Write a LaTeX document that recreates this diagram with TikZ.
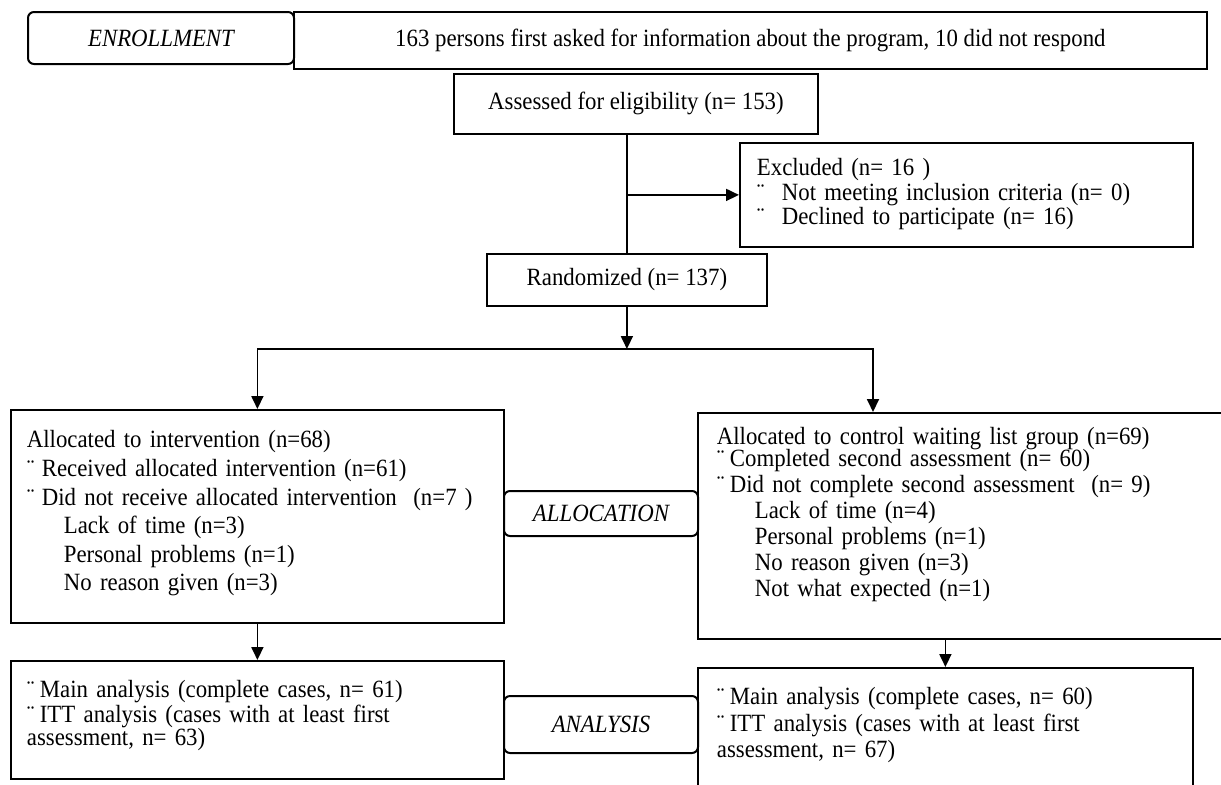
\documentclass[tikz,border=0pt]{standalone}
\usepackage{fontspec}
\setmainfont{Liberation Serif}[FakeStretch=0.92]
\usepackage{tikz}
\usetikzlibrary{arrows.meta}
\lineskiplimit=-10pt

\begin{document}
\begin{tikzpicture}[x=0.5pt, y=-0.5pt,
    every node/.style={font=\fontsize{12.4pt}{13pt}\selectfont},
    box/.style={draw, line width=0.9pt, anchor=north west, inner sep=0pt},
    phase/.style={box, rounded corners=3pt, line width=1pt, font=\fontsize{12.4pt}{13pt}\selectfont\itshape},
    listbox/.style={box, align=left},
    link/.style={line width=0.9pt},
    arr/.style={link, -{Triangle[length=6.5pt, width=6pt]}}]
    \fill[white] (0,0) rectangle (1221,784);
    \useasboundingbox (0,0) rectangle (1221,784);

    % enrollment
    \node[phase, minimum width=133pt, minimum height=26pt] (enrol) at (27,11) {ENROLLMENT};
    \node[box, minimum width=456.5pt, minimum height=28.5pt] (asked) at (293,11)
      {163 persons first asked for information about the program, 10 did not respond};
    \node[box, minimum width=182pt, minimum height=30pt] (assessed) at (453,73) {Assessed for eligibility (n= 153)};
    \node[listbox, text width=209.5pt, inner xsep=8.5pt, text height=16.5pt, text depth=35.5pt,
          font=\fontsize{12.4pt}{10.3pt}\selectfont] (excluded) at (739,142) {%
      Excluded (n= 16 )\\
      \makebox[12.5pt][l]{¨}Not meeting inclusion criteria (n= 0)\\
      \makebox[12.5pt][l]{¨}Declined to participate (n= 16)};
    \node[box, minimum width=140pt, minimum height=26pt] (random) at (486,253) {Randomized (n= 137)};

    % allocation
    \node[listbox, text width=230.5pt, inner xsep=8pt, text height=19pt, text depth=87.5pt,
          font=\fontsize{12.4pt}{14.3pt}\selectfont] (armA) at (10,409) {%
      Allocated to intervention (n=68)\\
      \makebox[7.5pt][l]{¨}Received allocated intervention (n=61)\\
      \makebox[7.5pt][l]{¨}Did not receive allocated intervention\ \ (n=7 )\\
      \hspace*{18.5pt}Lack of time (n=3)\\
      \hspace*{18.5pt}Personal problems (n=1)\\
      \hspace*{18.5pt}No reason given (n=3)};
    \node[phase, minimum width=97pt, minimum height=22.5pt] (allocation) at (503,490) {ALLOCATION};
    \node[listbox, text width=252.5pt, inner xsep=9.5pt, text height=16pt, text depth=97pt,
          font=\fontsize{12.4pt}{13pt}\selectfont] (armB) at (697,412) {%
      Allocated to control waiting list group (n=69)\\[-2pt]
      \makebox[6.5pt][l]{¨}Completed second assessment (n= 60)\\
      \makebox[6.5pt][l]{¨}Did not complete second assessment\ \ (n= 9)\\
      \hspace*{19pt}Lack of time (n=4)\\
      \hspace*{19pt}Personal problems (n=1)\\
      \hspace*{19pt}No reason given (n=3)\\
      \hspace*{19pt}Not what expected (n=1)};

    % analysis
    \node[listbox, text width=230.5pt, inner xsep=8pt, text height=18.5pt, text depth=40.5pt,
          font=\fontsize{12.4pt}{11.3pt}\selectfont] (anaA) at (10,660) {%
      \makebox[6.5pt][l]{¨}Main analysis (complete cases, n= 61)\\
      \makebox[6.5pt][l]{¨}ITT analysis (cases with at least first\\
      assessment, n= 63)};
    \node[phase, minimum width=97pt, minimum height=28.5pt] (analysis) at (503,695) {ANALYSIS};
    \node[listbox, text width=228.5pt, inner xsep=9.5pt, text height=18.5pt, text depth=48pt,
          font=\fontsize{12.4pt}{13.25pt}\selectfont] (anaB) at (697,667) {%
      \makebox[6.5pt][l]{¨}Main analysis (complete cases, n= 60)\\
      \makebox[6.5pt][l]{¨}ITT analysis (cases with at least first\\
      assessment, n= 67)};

    % connectors
    \coordinate (split) at (random.south |- 0,349);
    \coordinate (splitR) at (873,349);
    \draw[link] (random.north |- assessed.south) -- (random.north);
    \draw[arr] (random.north |- excluded.west) -- (excluded.west);
    \draw[arr] (random.south) -- (split);
    \draw[arr] (split) -| (armA.north);
    \draw[arr] (split) -| (splitR |- armB.north);
    \draw[arr] (armA.south) -- (anaA.north);
    \draw[arr] (armB.south -| anaB.north) -- (anaB.north);
\end{tikzpicture}
\end{document}
